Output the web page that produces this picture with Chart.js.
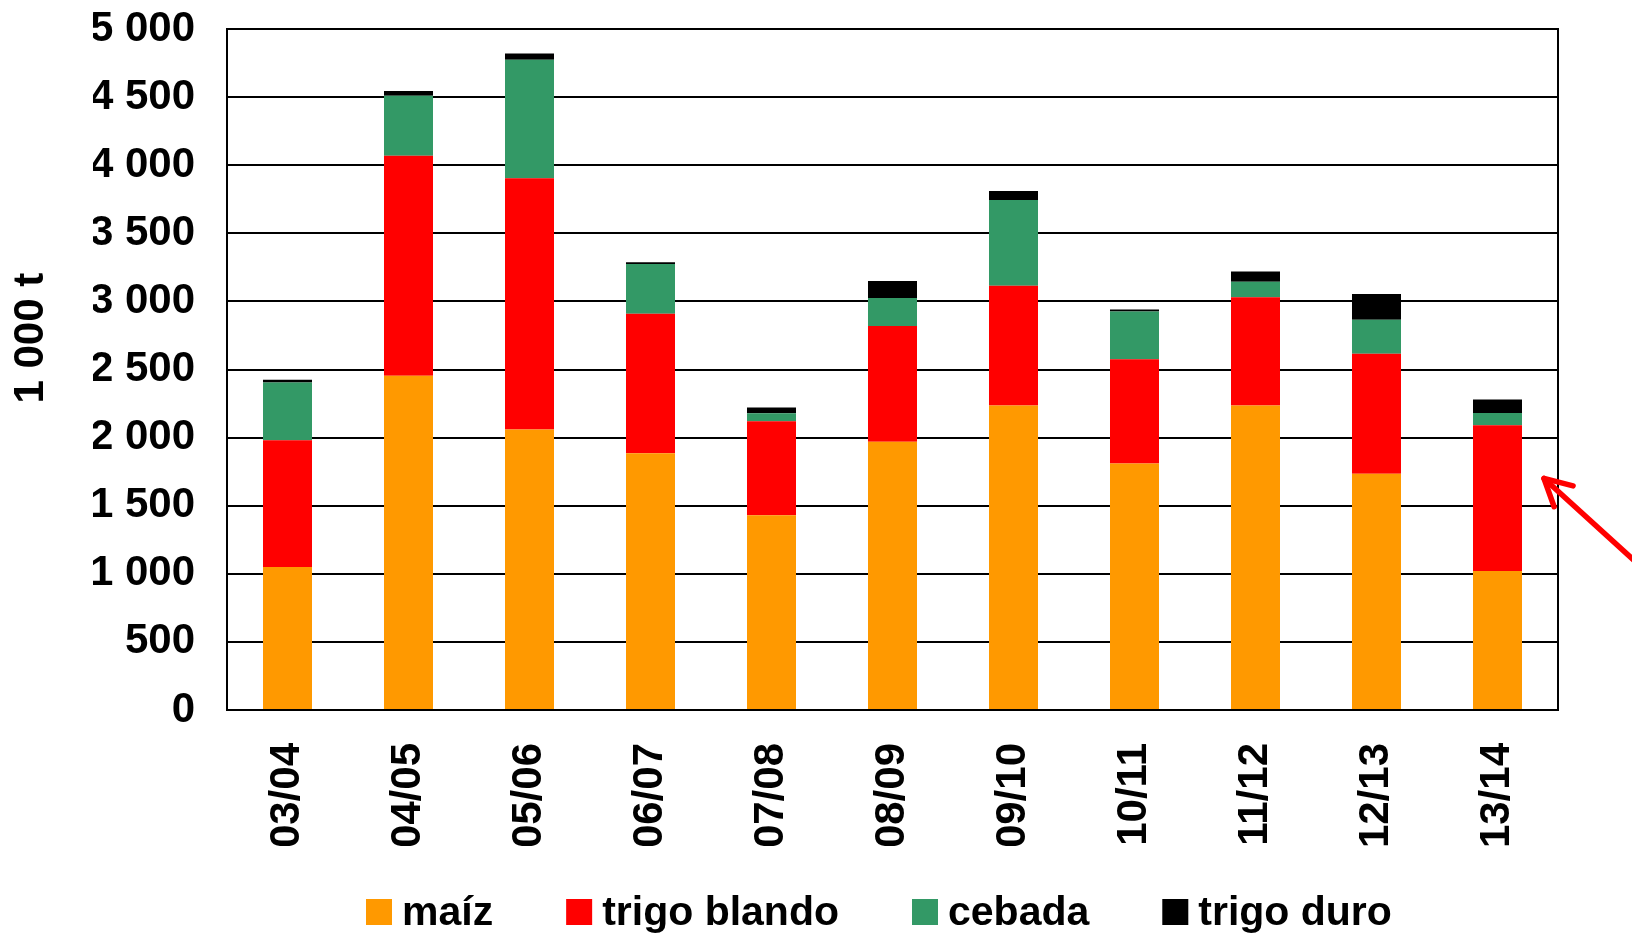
<!DOCTYPE html>
<html><head><meta charset="utf-8">
<script src="https://cdn.jsdelivr.net/npm/chart.js@4"></script>
<style>html,body{margin:0;padding:0;background:#fff}#wrap{width:1632px;height:934px;position:relative}</style>
</head><body><div id="wrap"><canvas id="c" width="1632" height="934"></canvas></div>
<script>
const categories = ['03/04','04/05','05/06','06/07','07/08','08/09','09/10','10/11','11/12','12/13','13/14'];
const maiz        = [1050, 2455, 2060, 1885, 1430, 1970, 2235, 1810, 2235, 1735, 1020];
const trigoBlando = [ 930, 1615, 1845, 1025,  690,  850,  880,  765,  795,  880, 1070];
const cebada      = [ 425,  440,  870,  365,   58,  205,  630,  350,  115,  250,   90];
const trigoDuro   = [  20,   35,   45,   13,   43,  125,   65,   16,   75,  190,  100];
const yTicks = [0, 500, 1000, 1500, 2000, 2500, 3000, 3500, 4000, 4500, 5000];
const seriesNames = ['maíz', 'trigo blando', 'cebada', 'trigo duro'];
const seriesColors = ['#FF9900', '#FF0000', '#339966', '#000000'];
const yTitle = '1 000 t';

const FONT = "'Liberation Sans', Arial, sans-serif";
const seriesData = [maiz, trigoBlando, cebada, trigoDuro];

function fmt(v) {
  if (v >= 1000) {
    const th = Math.floor(v / 1000), r = v % 1000;
    return th + ' ' + String(r).padStart(3, '0');
  }
  return String(v);
}

const framePlugin = {
  id: 'frame',
  afterDatasetsDraw(chart) {
    const {ctx, chartArea: a} = chart;
    ctx.save();
    ctx.strokeStyle = '#000';
    ctx.lineWidth = 2;
    ctx.strokeRect(a.left, a.top, a.right - a.left, a.bottom - a.top);
    ctx.restore();
  },
  afterDraw(chart) {
    const {ctx, chartArea: a} = chart;
    const ys = chart.scales.y;
    // y title
    ctx.save();
    ctx.fillStyle = '#000';
    ctx.font = 'bold 42px ' + FONT;
    ctx.translate(31, ys.getPixelForValue(2730));
    ctx.rotate(-Math.PI / 2);
    ctx.textAlign = 'center';
    ctx.textBaseline = 'middle';
    ctx.fillText(yTitle, 0, 0);
    ctx.restore();

    // legend
    ctx.save();
    ctx.font = 'bold 41px ' + FONT;
    ctx.textBaseline = 'middle';
    ctx.textAlign = 'left';
    let x = a.left + 139;
    const yMid = 912;
    chart.data.datasets.forEach((ds) => {
      ctx.fillStyle = ds.backgroundColor;
      ctx.fillRect(x, yMid - 13, 26, 26);
      x += 36;
      ctx.fillStyle = '#000';
      ctx.fillText(ds.label, x, yMid + 2);
      x += ctx.measureText(ds.label).width + 73;
    });
    ctx.restore();

    // arrow annotation
    ctx.save();
    ctx.strokeStyle = '#FF0000';
    ctx.lineWidth = 5.5;
    ctx.lineCap = 'round';
    ctx.lineJoin = 'round';
    const tx = a.right - 14, ty = ys.getPixelForValue(1700);
    const ang = Math.atan2(81, 89);
    ctx.beginPath();
    ctx.moveTo(tx, ty);
    ctx.lineTo(tx + Math.cos(ang) * 200, ty + Math.sin(ang) * 200);
    ctx.stroke();
    const wl = 30, spread = 28 * Math.PI / 180;
    ctx.beginPath();
    ctx.moveTo(tx + Math.cos(ang - spread) * wl, ty + Math.sin(ang - spread) * wl);
    ctx.lineTo(tx, ty);
    ctx.lineTo(tx + Math.cos(ang + spread) * wl, ty + Math.sin(ang + spread) * wl);
    ctx.stroke();
    ctx.restore();
  }
};

new Chart(document.getElementById('c'), {
  type: 'bar',
  data: {
    labels: categories,
    datasets: seriesNames.map((n, i) => ({
      label: n,
      data: seriesData[i],
      backgroundColor: seriesColors[i],
      borderWidth: 0,
      categoryPercentage: 1,
      barPercentage: 0.405
    }))
  },
  options: {
    responsive: false,
    animation: false,
    devicePixelRatio: 1,
    layout: { padding: { left: 93, right: 74, top: 29, bottom: 88 } },
    plugins: { legend: { display: false }, tooltip: { enabled: false } },
    scales: {
      x: {
        stacked: true,
        grid: { display: false, drawTicks: false },
        border: { display: true, color: '#000', width: 2 },
        ticks: {
          color: '#000',
          font: { family: FONT, size: 42, weight: 'bold' },
          minRotation: 90, maxRotation: 90,
          padding: 33,
          autoSkip: false
        },
        afterFit(scale) { scale.height = 136; }
      },
      y: {
        stacked: true,
        min: 0, max: 5000,
        grid: { color: '#000', lineWidth: 2, drawTicks: false },
        border: { display: true, color: '#000', width: 2 },
        ticks: {
          color: '#000',
          font: { family: FONT, size: 42, weight: 'bold' },
          padding: 32,
          callback: (v) => fmt(v)
        },
        afterBuildTicks(scale) { scale.ticks = yTicks.map(v => ({ value: v })); },
        afterFit(scale) { scale.width = 134; scale.paddingTop = 0; scale.paddingBottom = 0; }
      }
    }
  },
  plugins: [framePlugin]
});
</script>
</body></html>
